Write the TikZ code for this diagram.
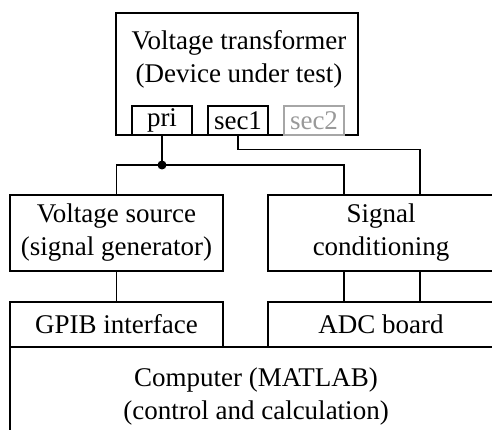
\documentclass[tikz,border=0pt]{standalone}
\usepackage{fontspec}
\setmainfont{Liberation Serif}
\usepackage{tikz}

\begin{document}
\begin{tikzpicture}[x=1pt, y=-1pt,
    box/.style={draw, line width=1.5pt, inner sep=0pt, align=center,
      font=\fontsize{27}{33}\selectfont},
    port/.style={box, minimum width=60, minimum height=29},
    wire/.style={line width=1.5pt}]
    \useasboundingbox (0,0) rectangle (492,430);
    \clip (0,0) rectangle (492,430);
    % Device under test
    \node[box, minimum width=242, minimum height=122] (dut) at (237,74) {};
    \node[align=center, font=\fontsize{27}{33}\selectfont] (dutlabel) at (239,59)
      {Voltage transformer\\(Device under test)};
    \node[port] (pri) at (162,120.5) {pri};
    \node[port] (sec1) at (238,120.5) {sec1};
    \node[port, draw=black!35, text=black!40] (sec2) at (314,120.5) {sec2};
    % Middle row
    \node[box, minimum width=213, minimum height=76] (vs) at (116.5,233)
      {Voltage source\\(signal generator)};
    \node[box, minimum width=226, minimum height=76] (sc) at (381,233)
      {Signal\\conditioning};
    % Interfaces and computer
    \node[box, minimum width=213, minimum height=45] (gpib) at (116.5,324.5) {GPIB interface};
    \node[box, minimum width=226, minimum height=45] (adc) at (381,324.5) {ADC board};
    \node[box, minimum width=492, minimum height=93, text depth=0pt] (pc) at (256,393.5)
      {Computer (MATLAB)\\(control and calculation)};
    % Wiring
    \coordinate (jn) at (162,165);
    \coordinate (sc1) at ([xshift=-37]sc.north);
    \coordinate (sc2) at ([xshift=39]sc.north);
    \draw[wire] (pri.south) -- (jn);
    \draw[wire] (vs.north) |- (jn) -| (sc1);
    \fill (jn) circle (4.5pt);
    \draw[wire] (sec1.south) -- ++(0,14) -| (sc2);
    \draw[wire] (vs.south) -- (gpib.north);
    \draw[wire] ([xshift=-37]sc.south) -- ([xshift=-37]adc.north);
    \draw[wire] ([xshift=39]sc.south) -- ([xshift=39]adc.north);
\end{tikzpicture}
\end{document}
